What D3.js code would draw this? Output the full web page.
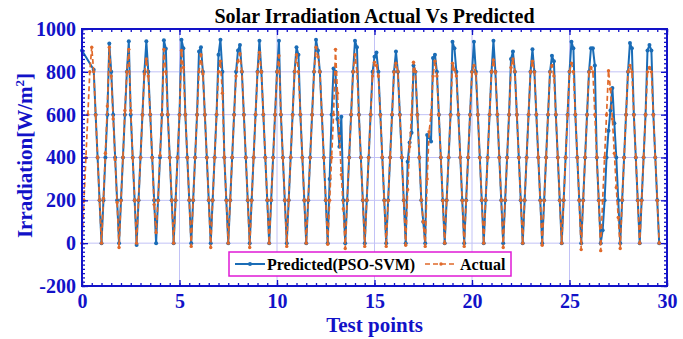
<!DOCTYPE html>
<html>
<head>
<meta charset="utf-8">
<script src="https://cdn.jsdelivr.net/npm/d3@7"></script>
<style>
  html, body { margin: 0; padding: 0; background: #fff; }
  svg { display: block; font-family: "Liberation Serif", "Times New Roman", serif; }
</style>
</head>
<body>
<svg id="chart" width="683" height="339"></svg>
<script>
// ---- tick labels ----
const xTicks = [0, 5, 10, 15, 20, 25, 30];
const yTicks = [-200, 0, 200, 400, 600, 800, 1000];
const pointsPerUnit = 10; // ten test points per axis unit

// ---- irradiation (W/m^2), one row per day, test points in order ----
const predictedDays = [
  [900, null, null, null, null, null, 810, 600, 400, 200],
  [0, 200, 400, 600, 932, 800, 600, 400, 200],
  [0, 200, 400, 600, 800, 943, 600, 400, 200],
  [-8, 200, 400, 600, 800, 943, 800, 600, 400, 200],
  [0, 200, 400, 600, 947, 908, 600, 400, 200],
  [0, 200, 400, 600, 950, 910, 600, 400, 200],
  [0, 200, 400, 600, 895, 915, 800, 600, 400, 200],
  [0, 200, 400, 600, 880, 950, 800, 400, 200],
  [0, 200, 400, 600, 800, 900, 925, 800, 600, 400, 200],
  [0, 200, 400, 600, 800, 945, 800, 600, 400, 200],
  [0, 200, 400, 600, 800, 945, 600, 400, 200],
  [0, 200, 400, 600, 800, 915, 880, 600, 400, 200],
  [0, 200, 400, 600, 800, 950, 900, 800, 600, 400, 200],
  [0, 300, 600, 815, 800, 580, 450, 590, 200],
  [0, 200, 400, 600, 800, 945, 915, 600, 400, 200],
  [0, 200, 400, 600, 800, 870, 890, 800, 600, 400, 200],
  [0, 200, 400, 600, 800, 895, 800, 600, 400, 200],
  [0, 380, 470, 515, 830, 800, 600, 400, 200, 100],
  [0, 505, 495, 475, 865, 880, 800, 600, 400, 200],
  [0, 200, 400, 600, 940, 910, 800, 600, 400, 200],
  [0, 200, 400, 600, 800, 940, 800, 600, 400, 200],
  [0, 200, 400, 600, 800, 945, 800, 600, 400, 200],
  [0, 200, 400, 600, 860, 895, 800, 600, 400, 200],
  [0, 200, 400, 600, 800, 905, 800, 600, 400, 200],
  [0, 200, 400, 600, 800, 875, 850, 600, 400, 200],
  [0, 200, 400, 600, 800, 940, 910, 600, 400, 200],
  [0, 200, 400, 600, 800, 910, 910, 830, 400, 200],
  [0, 60, 200, 400, 525, 620, 725, 560, 400, 200],
  [0, 200, 400, 600, 800, 935, 910, 600, 400, 200],
  [0, 200, 400, 600, 900, 925, 900, 600, 400, 200],
  [0]
];

const actualDays = [
  [0, 200, 400, 600, 800, 915, 800, 600, 400, 200],
  [0, 210, 420, 640, 915, 780, 580, 390, 190],
  [-20, 200, 400, 620, 800, 905, 620, 400, 200],
  [0, 200, 400, 600, 790, 860, 780, 600, 400, 180],
  [50, 200, 410, 600, 905, 800, 600, 400, 200],
  [0, 200, 400, 600, 900, 820, 600, 400, 200],
  [-15, 200, 400, 600, 800, 880, 790, 600, 400, 200],
  [-20, 200, 400, 600, 800, 850, 700, 400, 200],
  [0, 200, 400, 600, 780, 850, 885, 800, 600, 400, 200],
  [-20, 200, 400, 600, 800, 890, 800, 600, 400, 200],
  [0, 200, 400, 600, 800, 875, 600, 400, 200],
  [-15, 200, 400, 600, 800, 880, 800, 600, 400, 200],
  [0, 200, 400, 600, 800, 915, 870, 800, 600, 400, 200],
  [-5, 200, 400, 600, 905, 700, 500, 320, 160],
  [-25, 200, 400, 600, 800, 880, 800, 600, 400, 200],
  [-15, 200, 400, 600, 780, 845, 830, 780, 600, 400, 200],
  [-15, 200, 400, 600, 800, 840, 800, 600, 400, 200],
  [-10, 250, 450, 600, 845, 800, 600, 400, 200, 100],
  [-15, 300, 520, 600, 780, 850, 780, 600, 400, 200],
  [0, 200, 400, 600, 840, 810, 780, 600, 400, 200],
  [-15, 200, 400, 600, 800, 830, 790, 600, 400, 200],
  [0, 200, 400, 600, 800, 855, 800, 600, 400, 200],
  [-20, 200, 400, 600, 820, 860, 800, 600, 400, 200],
  [0, 200, 400, 600, 800, 850, 800, 600, 400, 200],
  [-10, 200, 400, 600, 800, 830, 780, 600, 400, 200],
  [0, 200, 400, 600, 800, 840, 800, 600, 400, 200],
  [-30, 200, 400, 600, 800, 820, 800, 600, 400, 200],
  [-35, 200, 400, 600, 805, 720, 580, 420, 260, 120],
  [-25, 200, 400, 600, 800, 830, 800, 600, 400, 200],
  [0, 200, 400, 600, 800, 820, 800, 600, 400, 200],
  [0]
];

const seriesNames = ["Predicted(PSO-SVM)", "Actual"];

// ---- layout ----
const plot = { left: 82, right: 667, top: 29, bottom: 286 };
const axisBlue = "#1212c8";
const predColor = "#1a6cb6";
const actColor = "#e0692a";

const svg = d3.select("#chart");
const x = d3.scaleLinear().domain([0, 30]).range([plot.left, plot.right]);
const y = d3.scaleLinear().domain([-200, 1000]).range([plot.bottom, plot.top]);

function toPoints(values) {
  return values
    .map((v, i) => ({ t: i / pointsPerUnit, v }))
    .filter(d => d.v !== null);
}
const predPts = toPoints(predictedDays.flat());
const actPts = toPoints(actualDays.flat());

// grid
const grid = svg.append("g").attr("stroke", "#c2c2f6").attr("stroke-width", 1);
grid.selectAll("line.gx").data(xTicks.slice(1, -1)).join("line")
  .attr("x1", d => x(d)).attr("x2", d => x(d))
  .attr("y1", plot.top).attr("y2", plot.bottom);
grid.selectAll("line.gy").data(yTicks.slice(1, -1)).join("line")
  .attr("y1", d => y(d)).attr("y2", d => y(d))
  .attr("x1", plot.left).attr("x2", plot.right);

// series
const line = d3.line().x(d => x(d.t)).y(d => y(d.v));

svg.append("path").datum(predPts)
  .attr("d", line).attr("fill", "none")
  .attr("stroke", predColor).attr("stroke-width", 2)
  .attr("stroke-linejoin", "round");
svg.append("g").selectAll("circle").data(predPts).join("circle")
  .attr("cx", d => x(d.t)).attr("cy", d => y(d.v)).attr("r", 2)
  .attr("fill", predColor);

svg.append("path").datum(actPts)
  .attr("d", line).attr("fill", "none")
  .attr("stroke", actColor).attr("stroke-width", 1.7)
  .attr("stroke-dasharray", "5,3")
  .attr("stroke-linejoin", "round");
svg.append("g").selectAll("circle").data(actPts).join("circle")
  .attr("cx", d => x(d.t)).attr("cy", d => y(d.v)).attr("r", 1.7)
  .attr("fill", actColor);

// axes: major/minor ticks pointing inward on all four sides
const xMinor = d3.range(0, 30.001, 0.5);
const yMinor = d3.range(-200, 1000.001, 20);
const plain = d => String(d);

function styleAxis(g) {
  g.select(".domain").remove();
  g.selectAll(".tick line").attr("stroke", axisBlue).attr("stroke-width", 1.3);
}

svg.append("g").attr("transform", `translate(0,${plot.bottom})`)
  .call(d3.axisBottom(x).tickValues(xMinor).tickSize(-3).tickFormat(""))
  .call(styleAxis);
svg.append("g").attr("transform", `translate(0,${plot.top})`)
  .call(d3.axisTop(x).tickValues(xMinor).tickSize(-3).tickFormat(""))
  .call(styleAxis);
svg.append("g").attr("transform", `translate(${plot.left},0)`)
  .call(d3.axisLeft(y).tickValues(yMinor).tickSize(-3).tickFormat(""))
  .call(styleAxis);
svg.append("g").attr("transform", `translate(${plot.right},0)`)
  .call(d3.axisRight(y).tickValues(yMinor).tickSize(-3).tickFormat(""))
  .call(styleAxis);

const xAxis = svg.append("g").attr("transform", `translate(0,${plot.bottom})`)
  .call(d3.axisBottom(x).tickValues(xTicks).tickSize(-6).tickPadding(8).tickFormat(plain))
  .call(styleAxis);
svg.append("g").attr("transform", `translate(0,${plot.top})`)
  .call(d3.axisTop(x).tickValues(xTicks).tickSize(-6).tickFormat(""))
  .call(styleAxis);
const yAxis = svg.append("g").attr("transform", `translate(${plot.left},0)`)
  .call(d3.axisLeft(y).tickValues(yTicks).tickSize(-6).tickPadding(6).tickFormat(plain))
  .call(styleAxis);
svg.append("g").attr("transform", `translate(${plot.right},0)`)
  .call(d3.axisRight(y).tickValues(yTicks).tickSize(-6).tickFormat(""))
  .call(styleAxis);

[xAxis, yAxis].forEach(g => g.selectAll(".tick text")
  .attr("fill", axisBlue)
  .style("font-family", '"Liberation Serif", "Times New Roman", serif')
  .style("font-weight", "bold")
  .style("font-size", "20px"));

// axis box
svg.append("rect")
  .attr("x", plot.left).attr("y", plot.top)
  .attr("width", plot.right - plot.left).attr("height", plot.bottom - plot.top)
  .attr("fill", "none").attr("stroke", axisBlue).attr("stroke-width", 2);

// title and axis labels
svg.append("text")
  .attr("x", (plot.left + plot.right) / 2).attr("y", 23)
  .attr("text-anchor", "middle")
  .attr("font-weight", "bold").attr("font-size", 20).attr("fill", "#000")
  .text("Solar Irradiation Actual Vs Predicted");

svg.append("text")
  .attr("x", (plot.left + plot.right) / 2).attr("y", 332)
  .attr("text-anchor", "middle")
  .attr("font-weight", "bold").attr("font-size", 21).attr("fill", axisBlue)
  .text("Test points");

const yl = svg.append("text")
  .attr("transform", `translate(32,${(plot.top + plot.bottom) / 2 - 2}) rotate(-90)`)
  .attr("text-anchor", "middle")
  .attr("font-weight", "bold").attr("font-size", 21).attr("fill", axisBlue);
yl.append("tspan").text("Irradiation[W/m");
yl.append("tspan").attr("font-size", 13).attr("dy", -8).text("2");
yl.append("tspan").attr("dy", 8).text("]");

// legend
const lg = svg.append("g").attr("transform", "translate(229,252)");
lg.append("rect").attr("width", 282).attr("height", 24)
  .attr("fill", "#fff").attr("stroke", "#e01ad6").attr("stroke-width", 1.5);
lg.append("line").attr("x1", 6).attr("x2", 36).attr("y1", 12).attr("y2", 12)
  .attr("stroke", predColor).attr("stroke-width", 2);
lg.append("circle").attr("cx", 21).attr("cy", 12).attr("r", 2).attr("fill", predColor);
lg.append("text").attr("x", 38).attr("y", 18)
  .attr("font-weight", "bold").attr("font-size", 16).attr("fill", "#000")
  .text(seriesNames[0]);
lg.append("line").attr("x1", 196).attr("x2", 228).attr("y1", 12).attr("y2", 12)
  .attr("stroke", actColor).attr("stroke-width", 1.7).attr("stroke-dasharray", "5,3");
lg.append("circle").attr("cx", 212).attr("cy", 12).attr("r", 1.7).attr("fill", actColor);
lg.append("text").attr("x", 231).attr("y", 18)
  .attr("font-weight", "bold").attr("font-size", 16).attr("fill", "#000")
  .text(seriesNames[1]);
</script>
</body>
</html>
